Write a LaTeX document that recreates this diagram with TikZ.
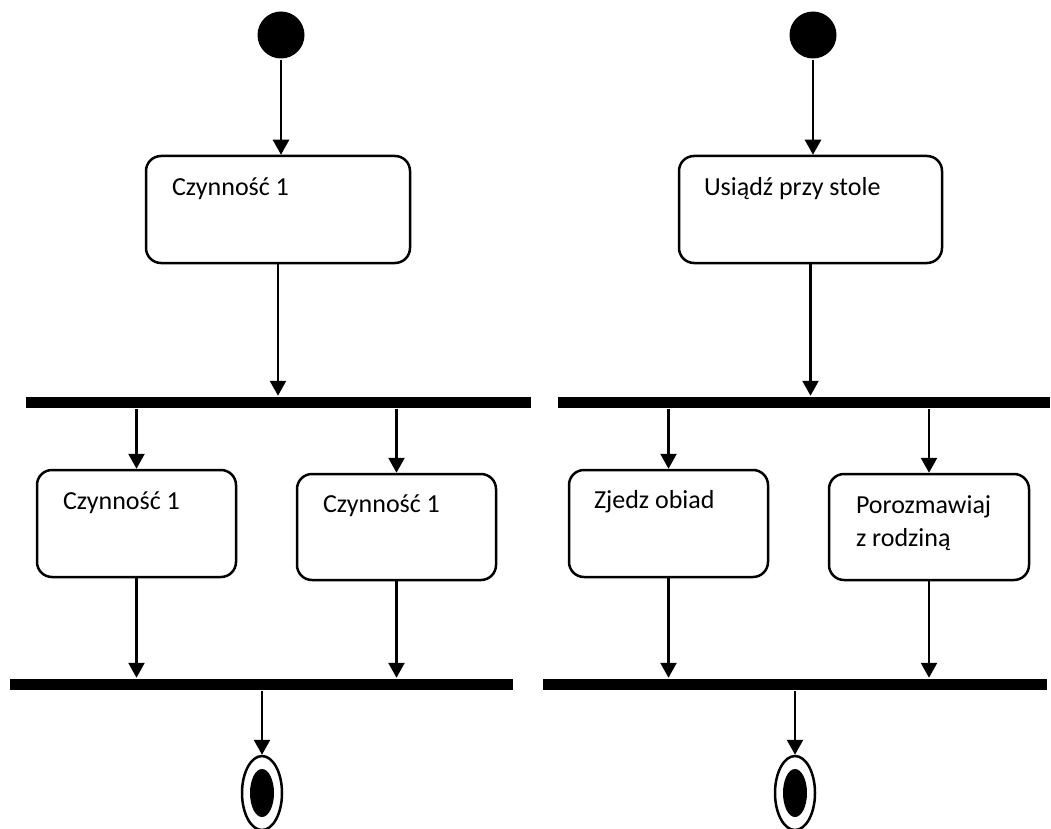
\documentclass[tikz,border=0pt]{standalone}
\usepackage{fontspec}
\setmainfont{Carlito}
\usetikzlibrary{arrows.meta,calc,shapes.geometric}

\begin{document}
\begin{tikzpicture}[x=1pt, y=-1pt, line width=2.5pt,
  flow/.style={-{Triangle[width=16pt,length=15pt]}},
  action/.style={draw, rounded corners=15pt, inner sep=0pt, minimum width=#1},
  action/.default=199pt,
  caption/.style={inner sep=0pt, anchor=base west, align=left,
    font=\fontsize{26pt}{33pt}\selectfont},
  syncbar/.style={fill=black, inner sep=0pt, minimum height=11pt, minimum width=#1},
  start/.style={circle, fill=black, inner sep=0pt, minimum size=47pt},
  finalouter/.style={ellipse, draw, inner sep=0pt, minimum width=40pt, minimum height=74pt},
  finalinner/.style={ellipse, fill=black, inner sep=0pt, minimum width=24pt, minimum height=48pt}]

\useasboundingbox (0,0) rectangle (1051,829);
\clip (0,0) rectangle (1051,829);

% ---------- generic activity diagram ----------
\node[start] (iL) at (281,35) {};
\node[action=264pt, minimum height=107pt] (L1) at (278,209.5) {};
\node[syncbar=505pt] (LB1) at (278.5,402.5) {};
\node[action, minimum height=107pt] (L2) at (136.5,523.5) {};
\node[action, minimum height=106pt] (L3) at (396.5,527) {};
\node[syncbar=503pt] (LB2) at (261.5,684.5) {};
\node[finalouter] (fL) at (262,793) {};
\node[finalinner] (fLi) at (fL.center) {};

\node[caption] (tL1) at ($(L1.north west)+(26,41)$) {Czynność 1};
\node[caption] (tL2) at ($(L2.north west)+(26,41)$) {Czynność 1};
\node[caption] (tL3) at ($(L3.north west)+(26,40)$) {Czynność 1};

\draw[flow] (iL) -- (iL |- L1.north);
\draw[flow] (L1.south) -- (L1.south |- LB1.north);
\draw[flow] (L2.north |- LB1.south) -- (L2.north);
\draw[flow] (L3.north |- LB1.south) -- (L3.north);
\draw[flow] (L2.south) -- (L2.south |- LB2.north);
\draw[flow] (L3.south) -- (L3.south |- LB2.north);
\draw[flow] (fL.north |- LB2.south) -- (fL.north);

% ---------- dinner activity diagram ----------
\node[start] (iR) at (813,35) {};
\node[action=263pt, minimum height=107pt] (R1) at (810.5,209.5) {};
\node[syncbar=492pt] (RB1) at (804,402.5) {};
\node[action, minimum height=107pt] (R2) at (668.5,523.5) {};
\node[action=200pt, minimum height=106pt] (R3) at (929,527) {};
\node[syncbar=504pt] (RB2) at (795,684.5) {};
\node[finalouter] (fR) at (795,793) {};
\node[finalinner] (fRi) at (fR.center) {};

\node[caption] (tR1) at ($(R1.north west)+(25,41)$) {Usiądź przy stole};
\node[caption] (tR2) at ($(R2.north west)+(25,40)$) {Zjedz obiad};
% the base anchor of a two-line caption sits on its last line
\node[caption] (tR3) at ($(R3.north west)+(27,74)$) {Porozmawiaj\\z rodziną};

\draw[flow] (iR) -- (iR |- R1.north);
\draw[flow] (R1.south) -- (R1.south |- RB1.north);
\draw[flow] (R2.north |- RB1.south) -- (R2.north);
\draw[flow] (R3.north |- RB1.south) -- (R3.north);
\draw[flow] (R2.south) -- (R2.south |- RB2.north);
\draw[flow] (R3.south) -- (R3.south |- RB2.north);
\draw[flow] (fR.north |- RB2.south) -- (fR.north);
\end{tikzpicture}
\end{document}
